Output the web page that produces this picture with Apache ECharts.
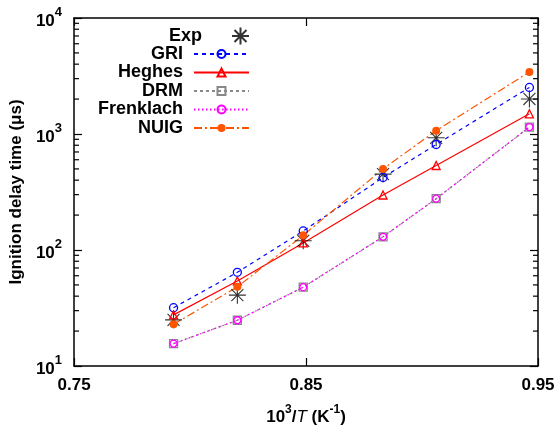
<!DOCTYPE html>
<html>
<head>
<meta charset="utf-8">
<script src="https://cdn.jsdelivr.net/npm/echarts@6/dist/echarts.min.js"></script>
<style>
  html, body { margin: 0; padding: 0; background: #fff; }
  #chart { width: 559px; height: 431px; }
</style>
</head>
<body>
<div id="chart"></div>
<script>
// 1000/T values (K^-1)
var invT = [0.7929, 0.8204, 0.8488, 0.8832, 0.9061, 0.9463];

// ignition delay time (us)
var expData = [25.0, 40.8, 120, 451, 927, 2004];
var gri = [31.8, 64.2, 146, 422, 812, 2521];
var heghes = [27.6, 54.1, 115, 298, 535, 1493];
var drm = [15.6, 24.8, 47.8, 130, 277, 1148];
var frenklach = [15.6, 24.8, 47.8, 130, 277, 1148];
var nuig = [22.9, 48.1, 134, 500, 1069, 3425];

var xTicks = [0.75, 0.85, 0.95];
var yMinorTicks = [20, 30, 40, 50, 60, 70, 80, 90, 200, 300, 400, 500, 600, 700, 800, 900,
  2000, 3000, 4000, 5000, 6000, 7000, 8000, 9000];

var names = ["Exp", "GRI", "Heghes", "DRM", "Frenklach", "NUIG"];
var legendY = [35.5, 54, 72.5, 91, 109.5, 128];

function pairs(ys) {
  return ys.map(function (y, i) { return [invT[i], y]; });
}

var font = "Liberation Sans";
var starPath = "path://M0,-10L0,10M-10,0L10,0M-7.07,-7.07L7.07,7.07M-7.07,7.07L7.07,-7.07";

var legends = names.map(function (n, i) {
  return {
    data: [n],
    orient: "horizontal",
    align: "right",
    right: 309,
    top: legendY[i] - 9,
    padding: 0,
    itemWidth: 55,
    itemHeight: n === "Exp" ? 17 : 10,
    selectedMode: false,
    textStyle: {
      fontFamily: font, fontWeight: "bold", fontSize: 18, color: "#000",
      lineHeight: 18, padding: [0, 6, 0, 0]
    }
  };
});

function lineSeries(name, data, color, dash, symbol, filled) {
  return {
    name: name,
    type: "line",
    data: pairs(data),
    symbol: symbol,
    symbolSize: 8,
    lineStyle: { color: color, width: 1.2, type: dash },
    itemStyle: filled
      ? { color: color }
      : { color: "rgba(0,0,0,0)", borderColor: color, borderWidth: 1.3 },
    emphasis: { disabled: true }
  };
}

var option = {
  animation: false,
  backgroundColor: "#fff",
  legend: legends,
  grid: { left: 73, right: 21, top: 18, bottom: 61, containLabel: false },
  xAxis: [
    {
      type: "value", min: 0.75, max: 0.95, position: "bottom",
      name: "{n|10}{s|3}{n|/}{i|T}{n| (K}{s|-1}{n|)}",
      nameLocation: "middle", nameGap: 38,
      nameTextStyle: {
        rich: {
          n: { fontFamily: font, fontWeight: "bold", fontSize: 17, color: "#000", lineHeight: 22, verticalAlign: "bottom" },
          i: { fontFamily: font, fontStyle: "italic", fontSize: 17, color: "#000", lineHeight: 22, verticalAlign: "bottom" },
          s: { fontFamily: font, fontWeight: "bold", fontSize: 12, color: "#000", lineHeight: 12, verticalAlign: "top" }
        }
      },
      axisLine: { show: true, lineStyle: { color: "#000", width: 1.5 } },
      axisTick: { show: true, inside: true, length: 8, customValues: xTicks, lineStyle: { color: "#000", width: 1.2 } },
      axisLabel: {
        customValues: xTicks, margin: 11,
        fontFamily: font, fontWeight: "bold", fontSize: 17, color: "#000",
        formatter: function (v) { return v.toFixed(2); }
      },
      splitLine: { show: false }
    },
    {
      type: "value", min: 0.75, max: 0.95, position: "top",
      axisLine: { show: true, lineStyle: { color: "#000", width: 1.5 } },
      axisTick: { show: true, inside: true, length: 8, customValues: xTicks, lineStyle: { color: "#000", width: 1.2 } },
      axisLabel: { show: false },
      splitLine: { show: false }
    }
  ],
  yAxis: [
    {
      type: "log", logBase: 10, min: 10, max: 10000, position: "left",
      name: "Ignition delay time (\u03bcs)",
      nameLocation: "middle", nameGap: 44,
      nameTextStyle: { fontFamily: font, fontWeight: "bold", fontSize: 17, color: "#000" },
      axisLine: { show: true, lineStyle: { color: "#000", width: 1.5 } },
      axisTick: { show: true, inside: true, length: 8, lineStyle: { color: "#000", width: 1.2 } },
      axisLabel: {
        margin: 12,
        formatter: function (v) {
          return "{b|10}{s|" + Math.round(Math.log10(v)) + "}";
        },
        rich: {
          b: { fontFamily: font, fontWeight: "bold", fontSize: 17, color: "#000", lineHeight: 24, verticalAlign: "bottom", padding: [4, 0, 0, 0] },
          s: { fontFamily: font, fontWeight: "bold", fontSize: 13, color: "#000", lineHeight: 13, verticalAlign: "top" }
        }
      },
      splitLine: { show: false }
    },
    {
      type: "log", logBase: 10, min: 10, max: 10000, position: "right",
      axisLine: { show: true, lineStyle: { color: "#000", width: 1.5 } },
      axisTick: { show: true, inside: true, length: 8, lineStyle: { color: "#000", width: 1.2 } },
      axisLabel: { show: false },
      splitLine: { show: false }
    }
  ],
  series: [
    {
      // minor ticks of the log axis, placed through the axis scale on both frame sides
      type: "custom",
      silent: true,
      clip: false,
      data: yMinorTicks.map(function (v) { return [0.75, v]; }),
      renderItem: function (params, api) {
        var v = api.value(1);
        var a = api.coord([0.75, v]);
        var b = api.coord([0.95, v]);
        var st = { stroke: "#000", lineWidth: 1.2 };
        return {
          type: "group",
          children: [
            { type: "line", shape: { x1: a[0], y1: a[1], x2: a[0] + 5, y2: a[1] }, style: st },
            { type: "line", shape: { x1: b[0] - 5, y1: b[1], x2: b[0], y2: b[1] }, style: st }
          ]
        };
      },
      z: 1
    },
    {
      name: "Exp",
      type: "scatter",
      data: pairs(expData),
      symbol: starPath,
      symbolSize: 17,
      symbolKeepAspect: true,
      itemStyle: { color: "rgba(0,0,0,0)", borderColor: "#000", borderWidth: 1.1 },
      emphasis: { disabled: true },
      z: 3
    },
    lineSeries("GRI", gri, "#0000ff", [4, 4], "circle", false),
    lineSeries("Heghes", heghes, "#ff0000", "solid", "triangle", false),
    lineSeries("DRM", drm, "#888888", [3, 3], "rect", false),
    lineSeries("Frenklach", frenklach, "#ff00ff", [1.5, 2.5], "circle", false),
    lineSeries("NUIG", nuig, "#ff5500", [8, 3, 2, 3], "circle", true)
  ]
};
option.series[5].symbolSize = 7;

var chart = echarts.init(document.getElementById("chart"));
chart.setOption(option);
window.addEventListener("resize", function () { chart.resize(); });
</script>
</body>
</html>
